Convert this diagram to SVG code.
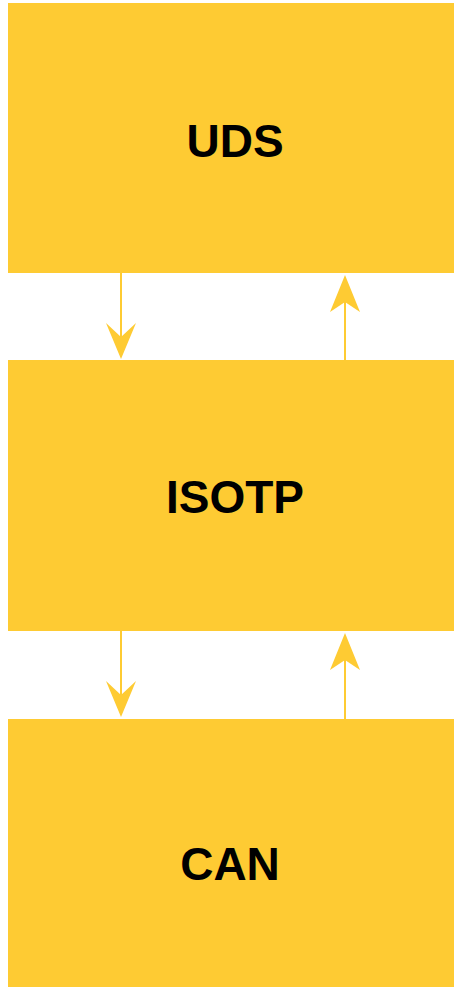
<svg xmlns="http://www.w3.org/2000/svg" width="454" height="987" viewBox="0 0 454 987">
  <style>
    .box { fill: #FECB33; }
    .label { font-family: "Liberation Sans", Arial, sans-serif; font-weight: bold; font-size: 46px; fill: #000; text-anchor: middle; }
    .wire { stroke: #FECB33; stroke-width: 2; fill: none; }
    .head { fill: #FECB33; }
  </style>
  <rect width="454" height="987" fill="#fff"/>

  <g id="uds">
    <rect class="box" x="8" y="3" width="460" height="270"/>
    <text class="label" x="235" y="157">UDS</text>
  </g>
  <g id="isotp">
    <rect class="box" x="8" y="360" width="460" height="271"/>
    <text class="label" x="235" y="513">ISOTP</text>
  </g>
  <g id="can">
    <rect class="box" x="8" y="719" width="460" height="280"/>
    <text class="label" x="230" y="880">CAN</text>
  </g>

  <g id="connectors">
    <!-- UDS -> ISOTP -->
    <line class="wire" x1="121" y1="273" x2="121" y2="340"/>
    <path class="head" d="M121 359 L106 323 L121 337 L136 323 Z"/>
    <!-- ISOTP -> UDS -->
    <line class="wire" x1="345" y1="360" x2="345" y2="295"/>
    <path class="head" d="M345 275 L330 312 L345 302 L360 312 Z"/>
    <!-- ISOTP -> CAN -->
    <line class="wire" x1="121" y1="631" x2="121" y2="698"/>
    <path class="head" d="M121 717 L106 681 L121 695 L136 681 Z"/>
    <!-- CAN -> ISOTP -->
    <line class="wire" x1="345" y1="719" x2="345" y2="653"/>
    <path class="head" d="M345 633 L330 670 L345 660 L360 670 Z"/>
  </g>
</svg>
